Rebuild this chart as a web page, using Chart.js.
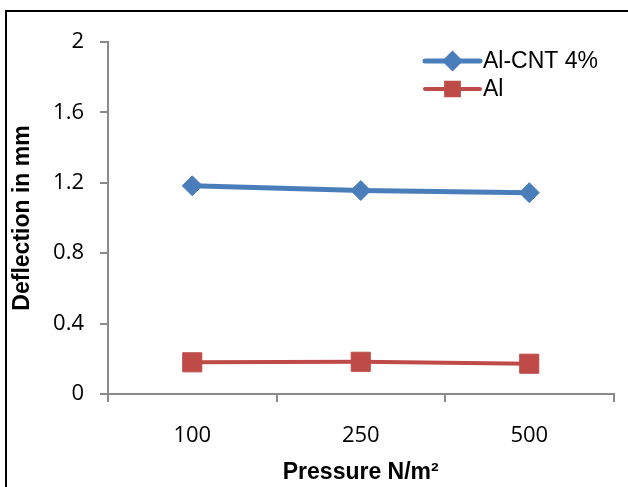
<!DOCTYPE html>
<html>
<head>
<meta charset="utf-8">
<script src="https://cdn.jsdelivr.net/npm/chart.js@4"></script>
<style>
    html, body { margin: 0; padding: 0; background: #fff; overflow: hidden; }
    #frame {
        position: absolute; left: 5px; top: 10px;
        width: 660px; height: 520px;
        border: 2px solid #000;
    }
    #chart { position: absolute; left: 0; top: 0; }
</style>
</head>
<body>
<div id="frame"></div>
<canvas id="chart" width="628" height="487"></canvas>
<script>
// data
const pressures = ['100', '250', '500'];
const alCnt = [1.183, 1.156, 1.144];
const alPure = [0.18, 0.183, 0.172];
const yTicks = [0, 0.4, 0.8, 1.2, 1.6, 2];

const axisGray = '#8a8a8a';

// legend in the Excel style: short line with the marker on it
const lineLegend = {
    id: 'lineLegend',
    afterDraw(chart) {
        const ctx = chart.ctx;
        const x0 = 425, x1 = 480;
        const rows = [61, 89];
        const sizes = [7, 9];
        chart.data.datasets.forEach((ds, i) => {
            const y = rows[i];
            ctx.save();
            ctx.strokeStyle = ds.borderColor;
            ctx.lineWidth = ds.borderWidth;
            ctx.lineCap = 'round';
            ctx.beginPath();
            ctx.moveTo(x0, y);
            ctx.lineTo(x1, y);
            ctx.stroke();
            ctx.fillStyle = ds.pointBackgroundColor;
            ctx.strokeStyle = ds.pointBorderColor;
            Chart.helpers.drawPoint(ctx, {
                pointStyle: ds.pointStyle, radius: sizes[i], rotation: 0, borderWidth: 1
            }, (x0 + x1) / 2, y);
            ctx.fillStyle = '#000';
            ctx.font = '23px "Liberation Sans", Arial, sans-serif';
            ctx.textBaseline = 'middle';
            ctx.fillText(ds.label, x1 + 3, y + 1);
            ctx.restore();
        });
    }
};

new Chart(document.getElementById('chart').getContext('2d'), {
    type: 'line',
    data: {
        labels: pressures,
        datasets: [
            {
                label: 'Al-CNT 4%',
                data: alCnt,
                borderColor: '#4a7ebb',
                borderWidth: 5,
                pointStyle: 'rectRot',
                pointRadius: 10,
                pointBackgroundColor: '#4a7ebb',
                pointBorderColor: '#4a7ebb',
                pointBorderWidth: 1,
                tension: 0
            },
            {
                label: 'Al',
                data: alPure,
                borderColor: '#be4b48',
                borderWidth: 4,
                pointStyle: 'rect',
                pointRadius: 13.5,
                pointBackgroundColor: '#be4b48',
                pointBorderColor: '#be4b48',
                pointBorderWidth: 1,
                tension: 0
            }
        ]
    },
    options: {
        responsive: false,
        devicePixelRatio: 1,
        animation: false,
        layout: { padding: { left: 9, top: 42, right: 6, bottom: 0 } },
        plugins: {
            legend: { display: false },
            tooltip: { enabled: false }
        },
        scales: {
            x: {
                offset: true,
                grid: {
                    display: true,
                    offset: true,
                    drawOnChartArea: false,
                    drawTicks: true,
                    tickLength: 8,
                    color: axisGray,
                    lineWidth: 2
                },
                border: { color: axisGray, width: 2 },
                ticks: {
                    color: '#000',
                    padding: 21,
                    font: { family: '"Open Sans", sans-serif', size: 22 }
                },
                title: {
                    display: true,
                    text: 'Pressure N/m²',
                    color: '#000',
                    padding: { top: 0, bottom: 1 },
                    font: { family: '"Liberation Sans", Arial, sans-serif', size: 23, weight: 'bold' }
                },
                afterFit(scale) { scale.height = 93; }
            },
            y: {
                min: 0,
                max: 2,
                afterBuildTicks(scale) {
                    scale.ticks = yTicks.map(v => ({ value: v }));
                },
                grid: {
                    display: true,
                    drawOnChartArea: false,
                    drawTicks: true,
                    tickLength: 8,
                    color: axisGray,
                    lineWidth: 2
                },
                border: { color: axisGray, width: 2 },
                ticks: {
                    color: '#000',
                    padding: 16,
                    font: { family: '"Open Sans", sans-serif', size: 22 },
                    callback: v => String(v)
                },
                title: {
                    display: true,
                    text: 'Deflection in mm',
                    color: '#000',
                    padding: { top: 0, bottom: 0 },
                    font: { family: '"Liberation Sans", Arial, sans-serif', size: 23, weight: 'bold' }
                },
                afterFit(scale) { scale.width = 99; }
            }
        }
    },
    plugins: [lineLegend]
});
</script>
</body>
</html>
